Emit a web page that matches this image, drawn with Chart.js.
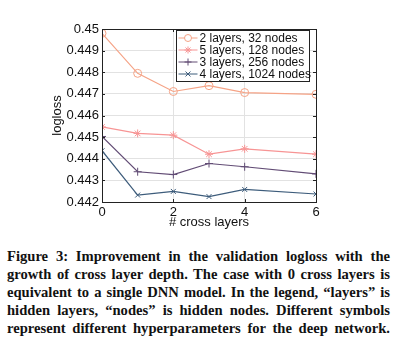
<!DOCTYPE html>
<html>
<head>
<meta charset="utf-8">
<script src="https://cdn.jsdelivr.net/npm/chart.js@4.4.0/dist/chart.umd.min.js"></script>
<style>
  body { margin: 0; background: #fff; width: 414px; height: 342px; overflow: hidden; }
  #wrap { position: absolute; left: 0; top: 0; width: 414px; height: 234px; }
  #caption { position: absolute; left: 7px; top: 247px; width: 383px;
             font-family: "Liberation Serif", serif; font-weight: bold; font-size: 14.6px; color: #111; }
  #caption div { height: 18px; line-height: 18px; text-align: justify; text-align-last: justify; white-space: nowrap; }
</style>
</head>
<body>
<div id="wrap"><canvas id="lossChart" width="414" height="234"></canvas></div>
<div id="caption">
  <div>Figure 3: Improvement in the validation logloss with the</div>
  <div>growth of cross layer depth. The case with 0 cross layers is</div>
  <div>equivalent to a single DNN model. In the legend, “layers” is</div>
  <div>hidden layers, “nodes” is hidden nodes. Different symbols</div>
  <div>represent different hyperparameters for the deep network.</div>
</div>
<script>
// data
const crossLayers = [0, 1, 2, 3, 4, 6];
const seriesLabels = ['2 layers, 32 nodes', '5 layers, 128 nodes', '3 layers, 256 nodes', '4 layers, 1024 nodes'];
const loss2x32 = [0.4498, 0.44795, 0.44711, 0.44738, 0.44706, 0.44698];
const loss5x128 = [0.44547, 0.44517, 0.44509, 0.44421, 0.44446, 0.44421];
const loss3x256 = [0.44503, 0.44340, 0.44327, 0.44378, 0.44363, 0.44330];
const loss4x1024 = [0.44437, 0.44232, 0.44249, 0.44225, 0.44258, 0.44237];
const yTicks = [0.442, 0.443, 0.444, 0.445, 0.446, 0.447, 0.448, 0.449, 0.45];
const xTicks = [0, 2, 4, 6];

const colors = ['#f5a386', '#f79494', '#624c75', '#3d5c7b'];
const markers = ['circle', 'star', 'cross', 'crossRot'];
const allSeries = [loss2x32, loss5x128, loss3x256, loss4x1024];

const FONT = '"Liberation Sans", Arial, sans-serif';

// box + inward tick marks
const frameBox = {
    id: 'frameBox',
    afterDatasetsDraw(chart) {
        const { ctx, chartArea: a, scales } = chart;
        ctx.save();
        ctx.strokeStyle = '#222';
        ctx.lineWidth = 1;
        ctx.beginPath();
        yTicks.forEach(v => {
            const y = Math.round(scales.y.getPixelForValue(v)) + 0.5;
            ctx.moveTo(a.left, y); ctx.lineTo(a.left + 3, y);
            ctx.moveTo(a.right, y); ctx.lineTo(a.right - 3, y);
        });
        xTicks.forEach(v => {
            const x = Math.round(scales.x.getPixelForValue(v)) + 0.5;
            ctx.moveTo(x, a.bottom); ctx.lineTo(x, a.bottom - 3);
            ctx.moveTo(x, a.top); ctx.lineTo(x, a.top + 3);
        });
        ctx.stroke();
        ctx.strokeRect(Math.round(a.left) + 0.5, Math.round(a.top) + 0.5,
            Math.round(a.right - a.left), Math.round(a.bottom - a.top));
        ctx.restore();
    }
};

// legend inside the plot, top right, with line + marker samples
const boxLegend = {
    id: 'boxLegend',
    afterDraw(chart) {
        const { ctx, chartArea: a } = chart;
        const rowH = 12;
        const left = 176.5, top = Math.round(a.top) + 1.5;
        const width = 133, height = rowH * 4 + 3;
        ctx.save();
        ctx.fillStyle = '#fff';
        ctx.fillRect(left, top, width, height);
        ctx.strokeStyle = '#222';
        ctx.lineWidth = 1;
        ctx.strokeRect(left, top, width, height);
        ctx.font = '12px ' + FONT;
        ctx.textBaseline = 'middle';
        chart.data.datasets.forEach((ds, i) => {
            const cy = top + 7.5 + i * rowH;
            ctx.strokeStyle = ds.borderColor;
            ctx.lineWidth = 1;
            ctx.beginPath();
            ctx.moveTo(left + 2, cy);
            ctx.lineTo(left + 21, cy);
            ctx.stroke();
            Chart.helpers.drawPoint(ctx, {
                pointStyle: ds.pointStyle, radius: 3.5, borderWidth: 1, rotation: 0
            }, left + 11.5, cy);
            ctx.fillStyle = '#111';
            ctx.fillText(ds.label, left + 23, cy + 0.5);
        });
        ctx.restore();
    }
};

new Chart(document.getElementById('lossChart'), {
    type: 'line',
    data: {
        datasets: allSeries.map((vals, i) => ({
            label: seriesLabels[i],
            data: vals.map((v, j) => ({ x: crossLayers[j], y: v })),
            borderColor: colors[i],
            backgroundColor: 'rgba(0,0,0,0)',
            pointBorderColor: colors[i],
            pointBackgroundColor: 'rgba(0,0,0,0)',
            pointStyle: markers[i],
            pointRadius: i === 3 ? 3.5 : 4,
            pointBorderWidth: 1,
            borderWidth: 1.2,
            tension: 0
        }))
    },
    options: {
        responsive: false,
        animation: false,
        layout: { padding: { left: 0, right: 98, top: 29, bottom: 0 } },
        plugins: {
            legend: { display: false },
            tooltip: { enabled: false }
        },
        scales: {
            x: {
                type: 'linear',
                min: 0,
                max: 6,
                afterFit(scale) { scale.height = 32; },
                afterBuildTicks(scale) { scale.ticks = xTicks.map(v => ({ value: v })); },
                grid: { color: '#e2e2e2', drawTicks: false },
                border: { display: false },
                ticks: { padding: 3, color: '#111', font: { family: FONT, size: 13 } },
                title: {
                    display: true, text: '# cross layers', color: '#111',
                    font: { family: FONT, size: 13 }, padding: { top: 0, bottom: 4 }
                }
            },
            y: {
                min: 0.442,
                max: 0.45,
                afterFit(scale) { scale.width = 102; },
                afterBuildTicks(scale) { scale.ticks = yTicks.map(v => ({ value: v })); },
                grid: { color: '#e2e2e2', drawTicks: false },
                border: { display: false },
                ticks: {
                    padding: 3, color: '#111', font: { family: FONT, size: 13 },
                    callback: v => String(Number(v.toFixed(3)))
                },
                title: {
                    display: true, text: 'logloss', color: '#111',
                    font: { family: FONT, size: 13 }, padding: { top: 50, bottom: 0 }
                }
            }
        }
    },
    plugins: [frameBox, boxLegend]
});
</script>
</body>
</html>
